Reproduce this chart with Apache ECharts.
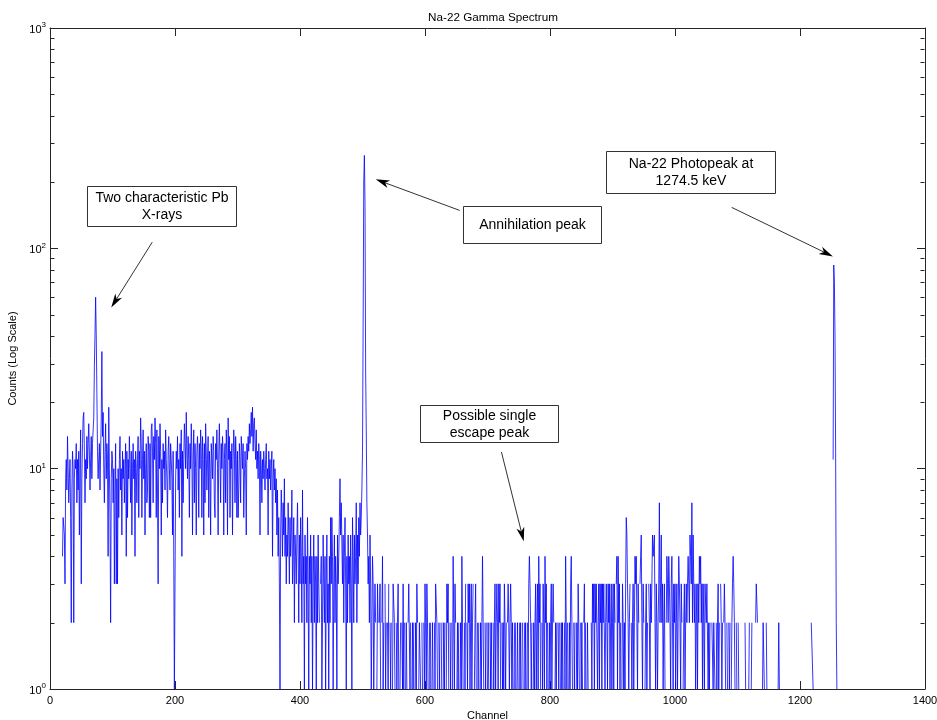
<!DOCTYPE html>
<html><head><meta charset="utf-8">
<script src="https://cdn.jsdelivr.net/npm/echarts@6/dist/echarts.min.js"></script>
<style>html,body{margin:0;padding:0;background:#fff}#c{width:937px;height:720px}</style>
</head><body><div id="c"></div>
<script>
// ---- data: counts per channel (0 = no counts, not drawn on log scale) ----
const startA = 20;   // channels 20-199
const countsA = [
 4,6,6,5,3,9,11,8,14,10,7,9,11,6,2,8,12,10,2,9,
 11,10,13,7,11,8,12,5,10,15,3,9,13,17,18,12,7,11,9,14,
 10,13,16,12,8,11,14,9,13,15,17,29,41,60,40,22,12,9,11,13,
 8,12,17,34,14,18,10,7,12,16,9,13,11,4,19,10,6,2,9,12,
 11,7,10,3,8,13,3,9,3,10,6,11,14,8,10,5,12,9,11,7,
 10,13,4,12,6,11,9,14,10,7,12,5,10,13,9,11,4,12,10,7,
 11,14,6,12,10,17,13,6,11,15,9,12,5,10,13,7,8,14,12,6,
 13,6,15,16,12,7,14,11,17,13,6,15,8,3,14,10,16,12,5,11,
 7,13,10,12,8,15,11,9,6,12,14,10,8,13,11,9,5,12,4,1
];
const startB = 200;  // channels 200-379
const countsB = [
 3,9,12,10,14,8,11,6,13,10,15,4,12,7,11,16,13,10,18,12,
 9,14,11,6,13,10,16,12,5,11,15,7,13,10,5,12,14,11,6,13,
 10,15,12,6,14,11,5,13,7,16,12,8,11,14,6,12,10,5,13,11,
 9,14,12,7,6,13,11,15,10,5,12,16,11,7,13,10,14,12,5,11,
 13,7,15,12,5,17,11,14,6,12,10,13,5,11,15,12,7,14,11,6,
 12,6,8,13,11,7,14,12,10,13,6,9,12,10,5,13,11,14,12,16,
 13,15,18,14,19,12,16,17,13,11,15,10,12,9,13,11,5,12,10,7,
 11,9,12,10,8,11,13,9,10,5,12,9,11,8,10,12,4,9,11,8,
 10,7,9,5,8,4,6,3,1,5,8,6,4,7,5,9,4,6,3,5
];
const startC = 380;  // channels 380-539
const countsC = [
 4,7,5,3,6,4,5,8,3,4,6,2,5,4,3,5,7,4,2,5,
 3,6,4,2,8,3,4,1,5,3,4,2,6,3,1,4,3,5,2,4,
 1,3,5,2,4,3,1,4,2,5,3,2,0,3,4,1,2,5,3,2,
 4,1,3,5,2,3,1,4,2,6,3,6,4,1,3,5,2,4,3,1,
 5,3,4,6,9,5,7,7,3,5,2,4,6,3,1,4,2,5,3,4,
 2,5,3,1,6,4,2,5,3,4,7,2,5,3,6,4,7,5,6,8,
 12,45,200,264,160,28,15,7,5,3,4,2,5,3,1,2,4,3,1,2,
 3,2,0,1,3,2,0,2,3,1,0,2,4,1,2,0,3,1,2,0
];
const startD = 540;  // channels 540-819
const countsD = [
 2,1,3,0,2,1,2,0,1,3,3,2,1,0,2,1,2,3,1,0,
 1,2,0,2,1,3,1,2,0,1,2,1,0,2,3,3,1,2,0,1,
 2,1,2,0,1,2,1,3,2,0,1,2,2,1,0,2,1,0,2,1,
 3,2,1,3,2,1,0,2,1,2,0,1,2,1,0,2,1,3,3,2,
 1,0,2,1,2,0,1,2,0,1,2,1,2,0,1,3,2,3,1,0,
 2,1,2,0,1,4,2,1,3,2,0,1,2,1,2,0,1,2,1,4,
 2,1,0,2,1,3,0,2,1,3,2,3,1,2,3,1,2,3,0,1,
 2,3,1,0,2,1,2,0,1,2,1,2,4,2,1,0,2,1,2,0,
 1,2,1,0,2,1,2,1,0,2,1,2,3,1,2,3,2,1,3,2,
 3,1,0,2,1,2,1,3,2,1,2,0,2,3,2,1,2,3,2,1,
 2,1,0,2,1,2,0,1,2,1,0,2,1,2,1,0,2,1,0,2,
 1,2,1,0,2,1,3,4,3,2,1,2,0,1,2,1,2,3,1,2,
 3,1,4,2,3,1,0,2,1,3,2,1,4,2,3,1,2,0,1,2,
 1,2,3,1,2,3,2,0,1,2,1,2,0,2,1,2,0,1,2,1
];
const startE = 820;  // channels 820-1099
const countsE = [
 2,1,0,2,1,4,2,1,2,0,1,2,1,3,4,2,1,0,2,1,
 2,0,1,2,1,3,2,1,0,2,1,2,1,0,2,3,1,2,0,1,
 2,1,0,6,6,0,2,1,3,2,3,1,3,2,3,3,1,2,3,1,
 3,2,3,1,3,2,3,3,1,2,3,2,1,3,2,3,1,2,3,1,
 2,3,1,3,2,0,3,4,1,4,2,3,1,2,0,1,3,2,1,2,
 1,3,6,5,3,2,1,2,3,0,2,1,2,3,1,2,4,3,4,2,
 1,3,2,0,3,4,5,2,1,3,2,0,1,2,3,1,2,0,3,2,
 1,3,2,3,5,4,4,5,2,1,3,2,1,2,3,7,2,3,5,2,
 3,1,2,3,1,0,2,4,3,2,4,3,2,1,3,4,2,1,3,2,
 3,1,2,3,1,2,4,3,2,1,3,2,0,1,2,3,1,2,3,2,
 3,4,3,2,5,4,3,7,2,5,3,2,3,1,2,3,1,3,2,4,
 3,4,2,3,1,3,2,1,3,3,2,3,3,1,2,1,2,2,0,2,
 2,1,2,2,1,0,2,1,2,3,1,2,0,3,2,1,2,0,2,3,
 2,1,0,2,1,0,2,1,2,0,1,2,3,4,3,2,1,0,2,1
];
const startF = 1100; // channels 1100-1259
const countsF = [
 0,2,1,0,2,0,0,1,0,3,3,0,2,1,0,2,0,0,1,2,
 0,0,1,2,0,0,0,1,0,2,3,3,2,0,0,0,0,0,0,0,
 1,2,2,1,0,0,2,1,0,0,0,0,0,0,0,0,0,0,0,0,
 0,0,0,0,0,1,2,1,0,0,0,0,0,0,0,0,0,0,0,0,
 0,0,0,0,0,0,0,0,0,0,0,0,0,0,0,0,0,0,0,0,
 0,0,0,0,0,0,0,0,0,0,0,2,2,0,0,0,0,0,2,2,
 2,1,0,0,0,0,0,0,0,0,0,0,0,0,0,0,0,0,0,0,
 0,0,0,0,0,0,0,0,0,0,0,0,0,11,84,70,40,12,2,1
];
const xTickStep = 200;
const yExponents = [0, 1, 2, 3];

// annotations: box centre, arrow tail and tip in (channel, counts) data space
const annotations = [
  {lines: ['Two characteristic Pb', 'X-rays'], box: [177.7, 155.8], size: [149, 40], tail: [163.6, 106.7], tip: [98.0, 53.9]},
  {lines: ['Annihilation peak'], box: [770.4, 128], size: [138, 37], tail: [655.6, 148.6], tip: [521.1, 205.6]},
  {lines: ['Na-22 Photopeak at', '1274.5 keV'], box: [1024.6, 222.3], size: [169, 42], tail: [1090.6, 153.4], tip: [1252.7, 91.9]},
  {lines: ['Possible single', 'escape peak'], box: [702.8, 16.1], size: [138, 37], tail: [722.3, 11.9], tip: [758.0, 4.68]}
];

// ---- build ----
const segments = [[startA, countsA], [startB, countsB], [startC, countsC], [startD, countsD], [startE, countsE], [startF, countsF]];
const seriesData = [];
segments.forEach(([s, arr]) => arr.forEach((v, i) => seriesData.push([s + i, v > 0 ? v : null])));

const FONT = 'Liberation Sans';
const AX = '#262626';
const chart = echarts.init(document.getElementById('c'), null, {renderer: 'canvas'});
const yMin = Math.pow(10, yExponents[0]), yMax = Math.pow(10, yExponents[yExponents.length - 1]);

const axisCommon = {
  axisLine: {show: true, onZero: false, lineStyle: {color: AX, width: 1}},
  axisTick: {show: true, inside: true, length: 8, lineStyle: {color: AX, width: 1}},
  splitLine: {show: false}
};

chart.setOption({
  animation: false,
  backgroundColor: '#fff',
  title: {text: 'Na-22 Gamma Spectrum', left: 488, textAlign: 'center', top: 7,
    textStyle: {fontSize: 11.7, fontWeight: 'normal', color: '#000', fontFamily: FONT}},
  grid: {left: 50, right: 12, top: 28, bottom: 31, containLabel: false, outerBoundsMode: 'none'},
  xAxis: [
    Object.assign({type: 'value', min: 0, max: 1400, interval: xTickStep, position: 'bottom',
      axisLabel: {show: true, margin: 6, fontSize: 11, color: '#000', fontFamily: FONT, formatter: v => String(v)},
      name: 'Channel', nameLocation: 'middle', nameGap: 19,
      nameTextStyle: {fontSize: 11, color: '#000', fontFamily: FONT}}, axisCommon),
    Object.assign({type: 'value', min: 0, max: 1400, interval: xTickStep, position: 'top',
      axisLabel: {show: false}}, axisCommon)
  ],
  yAxis: [
    Object.assign({type: 'log', logBase: 10, min: yMin, max: yMax, splitNumber: 3, position: 'left',
      axisLabel: {show: true, margin: 4, color: '#000',
        formatter: v => '{b|10}{e|' + Math.round(Math.log10(v)) + '}',
        rich: {b: {fontSize: 11, fontFamily: FONT, color: '#000', lineHeight: 14, verticalAlign: 'bottom'},
               e: {fontSize: 8, fontFamily: FONT, color: '#000', lineHeight: 14, verticalAlign: 'top'}}},
      name: 'Counts (Log Scale)', nameLocation: 'middle', nameGap: 24, nameRotate: 90,
      nameTextStyle: {fontSize: 11, color: '#000', fontFamily: FONT}}, axisCommon),
    Object.assign({type: 'log', logBase: 10, min: yMin, max: yMax, splitNumber: 3, position: 'right',
      axisLabel: {show: false}}, axisCommon)
  ],
  series: [{
    type: 'line', xAxisIndex: 0, yAxisIndex: 0, data: seriesData,
    showSymbol: false, symbol: 'none', connectNulls: false, sampling: null,
    lineStyle: {color: '#0000ff', width: 0.8}, itemStyle: {color: '#0000ff'},
    emphasis: {disabled: true}, clip: true, z: 2
  }]
});

// ---- overlays: log minor ticks and annotations ----
function px(p) { return chart.convertToPixel({xAxisIndex: 0, yAxisIndex: 0}, p); }
const g = [];
const xl = Math.round(px([0, 1])[0]) + 0.5;
const xr = Math.round(px([1400, 1])[0]) - 0.5;
for (let d = yExponents[0]; d < yExponents[yExponents.length - 1]; d++) {
  for (let m = 2; m <= 9; m++) {
    const y = Math.round(px([0, m * Math.pow(10, d)])[1]) + 0.5;
    g.push({type: 'line', shape: {x1: xl, y1: y, x2: xl + 4, y2: y}, style: {stroke: AX, lineWidth: 1}, z: 50, silent: true});
    g.push({type: 'line', shape: {x1: xr - 4, y1: y, x2: xr, y2: y}, style: {stroke: AX, lineWidth: 1}, z: 50, silent: true});
  }
}
annotations.forEach(a => {
  const c = px(a.box);
  const w = a.size[0], h = a.size[1];
  const x0 = Math.round(c[0] - w / 2) + 0.5, y0 = Math.round(c[1] - h / 2) + 0.5;
  g.push({type: 'rect', shape: {x: x0, y: y0, width: w, height: h},
    style: {fill: '#fff', stroke: '#333', lineWidth: 1}, z: 100, silent: true});
  g.push({type: 'text', x: x0 + w / 2, y: y0 + h / 2 + 0.5,
    style: {text: a.lines.join('\n'), fontSize: 14, fontFamily: FONT, fill: '#000',
      align: 'center', verticalAlign: 'middle', lineHeight: 17}, z: 101, silent: true});
  const t = px(a.tail), p = px(a.tip);
  const dx = p[0] - t[0], dy = p[1] - t[1], L = Math.hypot(dx, dy), ux = dx / L, uy = dy / L;
  const hl = 14, hw = 4, notch = 10;
  const bx = p[0] - ux * hl, by = p[1] - uy * hl;
  g.push({type: 'line', shape: {x1: t[0], y1: t[1], x2: p[0] - ux * notch, y2: p[1] - uy * notch},
    style: {stroke: '#333', lineWidth: 1}, z: 100, silent: true});
  g.push({type: 'polygon', shape: {points: [[p[0], p[1]], [bx - uy * hw, by + ux * hw], [p[0] - ux * notch, p[1] - uy * notch], [bx + uy * hw, by - ux * hw]]},
    style: {fill: '#000'}, z: 100, silent: true});
});
chart.setOption({graphic: g});
</script>
</body></html>
